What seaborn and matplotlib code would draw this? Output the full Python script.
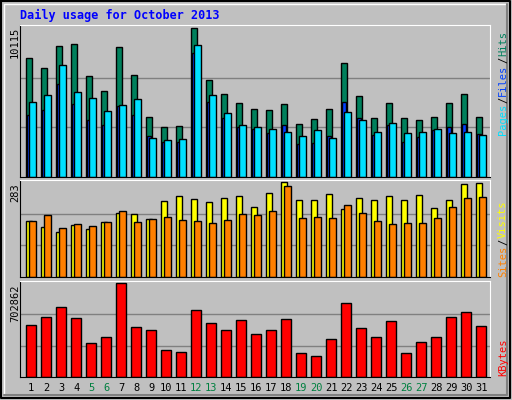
import numpy as np
import matplotlib
matplotlib.use("Agg")
import matplotlib.pyplot as plt
import seaborn as sns

days = list(range(1, 32))
weekends = [5, 6, 12, 13, 19, 20, 26, 27]

# values
hits = [8100, 7420, 8920, 9060, 6870, 5840, 8850, 6930, 4070, 3390, 3460,
        10115, 6610, 5650, 5030, 4620, 4550, 4960, 3600, 3940, 4620,
        7760, 5510, 4000, 5030, 4000, 3870, 4070, 5030, 5650, 4070]
files = [5100, 5580, 7580, 5790, 5380, 4490, 4910, 5310, 2630, 2490, 2560,
         8950, 5580, 4350, 3520, 3390, 3250, 3040, 2770, 3180, 2630,
         4420, 3870, 3040, 3660, 2970, 3040, 3250, 2970, 3040, 2840]
pages = [4210, 4560, 6280, 4970, 3870, 3520, 4830, 4210, 2770, 2360, 2360,
         8400, 5100, 4000, 3390, 3250, 2970, 3520, 2220, 2290, 2770,
         5100, 4000, 2840, 3520, 2360, 2700, 3180, 3390, 3590, 2910]
visits = [166, 148, 133, 154, 142, 163, 190, 187, 172, 225, 240,
          231, 222, 234, 240, 209, 249, 283, 228, 228, 246,
          203, 234, 228, 240, 228, 243, 206, 228, 278, 281]
sites = [166, 185, 145, 157, 151, 163, 197, 163, 172, 178, 169,
         166, 160, 169, 187, 185, 197, 271, 175, 178, 175,
         215, 190, 166, 157, 160, 160, 175, 209, 234, 237]
kbytes = [387000, 448000, 525000, 441000, 256000, 295000, 702862, 372000,
          349000, 203000, 187000, 502000, 402000, 349000, 426000, 318000,
          349000, 433000, 180000, 156000, 287000, 556000, 364000, 302000,
          418000, 180000, 264000, 295000, 448000, 487000, 379000]

BG = "#C0C0C0"
sns.set_style("white")
plt.rcParams["font.family"] = ["DejaVu Sans Mono", "DejaVu Sans"]

fig = plt.figure(figsize=(5.12, 4.0), dpi=100, facecolor=BG)
W, H = 512, 400


def add_ax(x0, y0, x1, y1):
    ax = fig.add_axes([x0 / W, 1 - y1 / H, (x1 - x0) / W, (y1 - y0) / H])
    ax.set_facecolor(BG)
    ax.set_xlim(0.267, 31.6)
    ax.set_xticks([])
    ax.set_yticks([])
    for s in ["left", "bottom"]:
        ax.spines[s].set_color("black")
    for s in ["top", "right"]:
        ax.spines[s].set_color("white")
    return ax


x = np.array(days, dtype=float)
kw = dict(edgecolor="black", linewidth=1, align="edge")

# top panel
ax1 = add_ax(20, 25, 490, 177)
m1 = max(hits)
ax1.set_ylim(0, m1 * 1.02)
for g in (m1 / 3, 2 * m1 / 3):
    ax1.axhline(g, color="#808080", lw=1, zorder=0)
ax1.bar(x - 0.35, hits, width=0.44, color="#00805C", **kw)
ax1.bar(x - 0.29, pages, width=0.3, color="#0040FF", **kw)
ax1.bar(x - 0.13, files, width=0.48, color="#00E0FF", **kw)

# middle panel
ax2 = add_ax(20, 180, 490, 277)
m2 = max(visits)
ax2.set_ylim(0, m2 * 1.02)
for g in (m2 / 3, 2 * m2 / 3):
    ax2.axhline(g, color="#808080", lw=1, zorder=0)
ax2.bar(x - 0.35, visits, width=0.44, color="#FFFF00", **kw)
ax2.bar(x - 0.13, sites, width=0.48, color="#FF8000", **kw)

# bottom panel
ax3 = add_ax(20, 281, 490, 377)
m3 = max(kbytes)
ax3.set_ylim(0, m3 * 1.02)
for g in (m3 / 3, 2 * m3 / 3):
    ax3.axhline(g, color="#808080", lw=1, zorder=0)
ax3.bar(x - 0.31, kbytes, width=0.66, color="#FF0000", **kw)

# day labels
for d in days:
    c = "#008040" if d in weekends else "black"
    ax3.text(d + 0.02, -0.06, str(d), transform=ax3.get_xaxis_transform(),
             ha="center", va="top", fontsize=7.5, color=c)

# title and left max labels
fig.text(20 / W, 1 - 15 / H, "Daily usage for October 2013", color="#0000FF",
         fontsize=8.5, fontweight="bold", va="center", ha="left")
for y0, lab in [(27, "10115"), (183, "283"), (284, "702862")]:
    fig.text(15 / W, 1 - y0 / H, lab, rotation=90, ha="center", va="top",
             fontsize=7.5, color="black")

renderer = fig.canvas.get_renderer()


def right_label(y_bottom, parts):
    # stack coloured pieces upward, measuring each one
    y = y_bottom
    for txt, col in parts:
        t = fig.text(503 / W, 1 - y / H, txt, rotation=90, ha="center",
                     va="bottom", fontsize=7.5, color=col)
        y -= t.get_window_extent(renderer).height + 1


right_label(135, [("Pages", "#00E0FF"), ("/", "black"), ("Files", "#0040FF"),
                  ("/", "black"), ("Hits", "#00805C")])
right_label(277, [("Sites", "#FF8000"), ("/", "black"), ("Visits", "#FFFF00")])
right_label(376, [("KBytes", "#FF0000")])

# bevelled frame
frame = fig.add_axes([0, 0, 1, 1], facecolor="none", zorder=-1)
frame.set_xlim(0, W)
frame.set_ylim(H, 0)
frame.axis("off")
frame.plot([1, 510, 510, 1, 1], [1, 1, 398, 398, 1], color="black", lw=1.5)
frame.plot([4, 4, 507], [395, 4, 4], color="white", lw=1)
frame.plot([4, 507, 507], [395, 395, 4], color="#808080", lw=1.5)

fig.savefig("out.png", dpi=100, facecolor=BG)
